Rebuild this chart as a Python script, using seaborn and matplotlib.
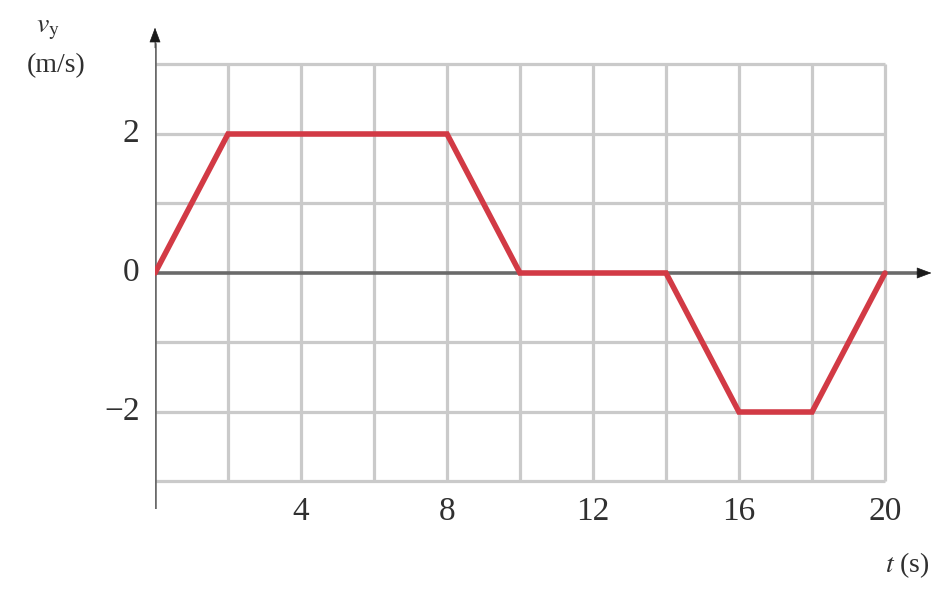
import matplotlib
matplotlib.use("Agg")
import matplotlib.pyplot as plt
import seaborn as sns
import pandas as pd

# data
t_values = [0, 2, 8, 10, 14, 16, 18, 20]
v_values = [0, 2, 2, 0, 0, -2, -2, 0]
x_ticks = [4, 8, 12, 16, 20]
y_ticks = [-2, 0, 2]
y_tick_labels = ["\u22122", "0", "2"]

sns.set_theme(style="white")
plt.rcParams['font.family'] = ['Liberation Serif', 'DejaVu Serif']

fig = plt.figure(figsize=(9.44, 5.91), dpi=100)
W, H = 944, 591
# axes placement in pixels
x0_px, px_per_x = 155, 36.5
y0_px, px_per_y = 273, 69.5
xlim = (0, 21.4)
ylim = (-3.4, 3.6)
left = x0_px / W
width = (xlim[1] - xlim[0]) * px_per_x / W
bottom_px = y0_px - ylim[0] * px_per_y
height = (ylim[1] - ylim[0]) * px_per_y / H
ax = fig.add_axes([left, 1 - bottom_px / H, width, height])
ax.set_xlim(*xlim)
ax.set_ylim(*ylim)
for s in ax.spines.values():
    s.set_visible(False)
ax.set_xticks([])
ax.set_yticks([])
ax.patch.set_alpha(0)

grid_c = "#cacaca"
for gx in range(2, 21, 2):
    ax.plot([gx, gx], [-3, 3], color=grid_c, lw=2.3, zorder=1, solid_capstyle="butt")
for gy in [-3, -2, -1, 1, 2, 3]:
    ax.plot([0, 20], [gy, gy], color=grid_c, lw=2.3, zorder=1, solid_capstyle="butt")

# axes with arrows
axis_c = "#6a6a6a"
ax.plot([0, 0], [-3.4, 3.3], color=axis_c, lw=2.6, zorder=2)
ax.plot([0, 21.0], [0, 0], color=axis_c, lw=2.6, zorder=2)
ax.annotate("", xy=(0, 3.57), xytext=(0, 3.2),
            arrowprops=dict(arrowstyle="-|>,head_length=0.8,head_width=0.3", color="#1a1a1a", lw=0.5), zorder=3)
ax.annotate("", xy=(21.35, 0), xytext=(20.8, 0),
            arrowprops=dict(arrowstyle="-|>,head_length=0.8,head_width=0.3", color="#1a1a1a", lw=0.5), zorder=3)

df = pd.DataFrame({"t": t_values, "v": v_values})
sns.lineplot(data=df, x="t", y="v", ax=ax, color="#d23a45", lw=4.0,
             sort=False, zorder=4, solid_joinstyle="miter")
ax.set_xlabel("")
ax.set_ylabel("")

txt_c = "#303030"
fs = 24
for xt in x_ticks:
    ax.text(xt, -3.44, str(xt), ha="center", va="center", fontsize=fs, color=txt_c)
for yt, lab in zip(y_ticks, y_tick_labels):
    ax.text(-0.42, yt, lab, ha="right", va="center", fontsize=fs, color=txt_c)

fig.text(930 / W, 1 - 565 / H, "$t$ (s)", ha="right", va="center", fontsize=20, color=txt_c,
         math_fontfamily="stix")
fig.text(48 / W, 1 - 30 / H, "$v_{\\rm y}$", ha="center", va="center", fontsize=20, color=txt_c,
         math_fontfamily="stix")
fig.text(56 / W, 1 - 66 / H, "(m/s)", ha="center", va="center", fontsize=20, color=txt_c)

fig.savefig("out.png", dpi=100)
